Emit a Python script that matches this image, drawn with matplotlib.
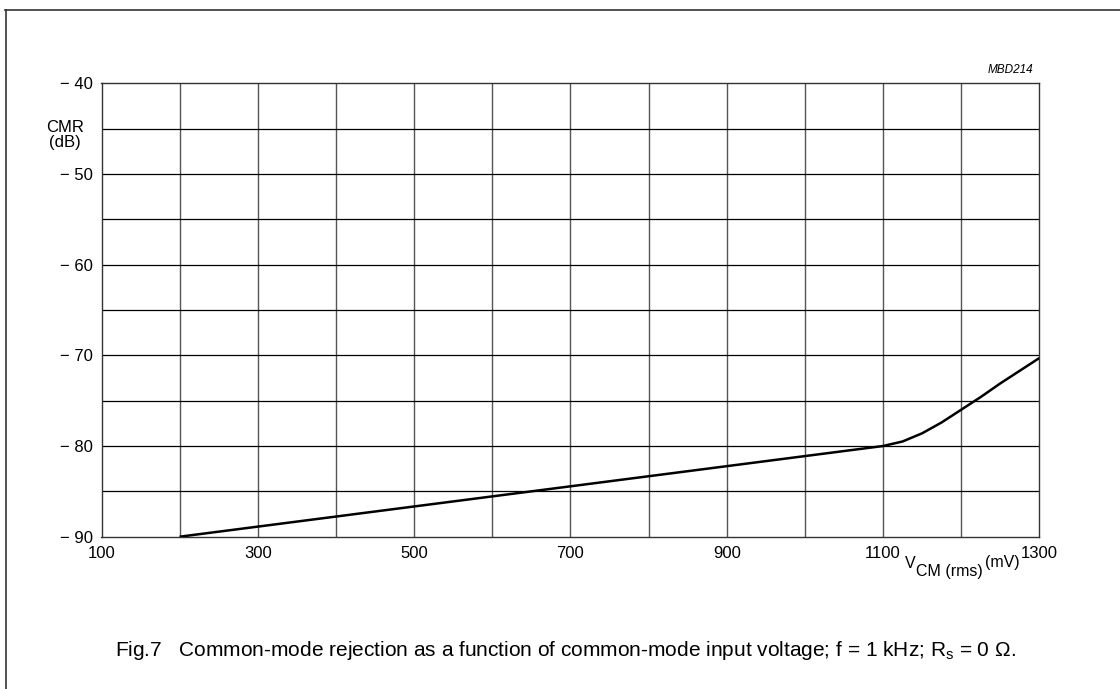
import matplotlib
matplotlib.use("Agg")
import matplotlib.pyplot as plt
from matplotlib.lines import Line2D
import numpy as np

plt.rcParams['font.family'] = ['Liberation Sans', 'DejaVu Sans']
plt.rcParams['mathtext.fontset'] = 'custom'
plt.rcParams['mathtext.rm'] = 'Liberation Sans'
plt.rcParams['mathtext.it'] = 'Liberation Sans:italic'

# Data
vcm_mv = [200, 1100, 1125, 1150, 1175, 1200, 1225, 1250, 1275, 1300]
cmr_db = [-90.0, -80.0, -79.5, -78.6, -77.4, -76.0, -74.6, -73.1, -71.7, -70.3]

x_ticks = [100, 300, 500, 700, 900, 1100, 1300]
x_tick_labels = ["100", "300", "500", "700", "900", "1100", "1300"]
y_ticks = [-90, -80, -70, -60, -50, -40]
y_tick_labels = ["\u2212 90", "\u2212 80", "\u2212 70", "\u2212 60", "\u2212 50", "\u2212 40"]

W, H = 1120, 689
fig = plt.figure(figsize=(W / 100, H / 100), dpi=100)
ax = fig.add_axes([101.5 / W, 1 - 536.7 / H, (1039.3 - 101.5) / W, (536.7 - 83.3) / H])

ax.set_xlim(100, 1300)
ax.set_ylim(-90, -40)

# grid
for xv in range(200, 1300, 100):
    ax.axvline(xv, color='#555555', lw=1.0, zorder=1)
for yv in np.arange(-85, -40, 5):
    ax.axhline(yv, color='black', lw=0.9, zorder=1)

ax.plot(vcm_mv, cmr_db, color='black', lw=1.8, zorder=3,
        solid_capstyle='butt', solid_joinstyle='round')

ax.set_xticks(x_ticks)
ax.set_xticklabels(x_tick_labels)
ax.set_yticks(y_ticks)
ax.set_yticklabels(y_tick_labels)
ax.tick_params(length=0, labelsize=12, colors='black')
ax.tick_params(axis='x', pad=7)
ax.tick_params(axis='y', pad=6)
for s in ax.spines.values():
    s.set_color('#333333')
    s.set_linewidth(1.0)

# axis titles
fig.text(65 / W, 1 - 127 / H, "CMR", ha='center', va='center', fontsize=12)
fig.text(65 / W, 1 - 143 / H, "(dB)", ha='center', va='center', fontsize=12)
fig.text(1010 / W, 1 - 70 / H, "MBD214", ha='center', va='center', fontsize=8.5, style='italic')
fig.text(905 / W, 1 - 568 / H, "V", ha='left', va='baseline', fontsize=11.5)
fig.text(916 / W, 1 - 576 / H, "CM (rms)", ha='left', va='baseline', fontsize=11.5)
fig.text(985 / W, 1 - 567 / H, "(mV)", ha='left', va='baseline', fontsize=11.5)

# caption
fig.text(115 / W, 1 - 650 / H,
         "Fig.7   Common-mode rejection as a function of common-mode input voltage; f = 1 kHz; R$_{\\mathrm{s}}$ = 0 \u03a9.",
         ha='left', va='center', fontsize=15)

# figure frame (top and left)
fig.add_artist(Line2D([5 / W, 1.0], [1 - 9.5 / H, 1 - 9.5 / H], color='#333333', lw=1.2, transform=fig.transFigure))
fig.add_artist(Line2D([5.5 / W, 5.5 / W], [0, 1 - 9.5 / H], color='#333333', lw=1.2, transform=fig.transFigure))

fig.savefig("out.png", dpi=100)
